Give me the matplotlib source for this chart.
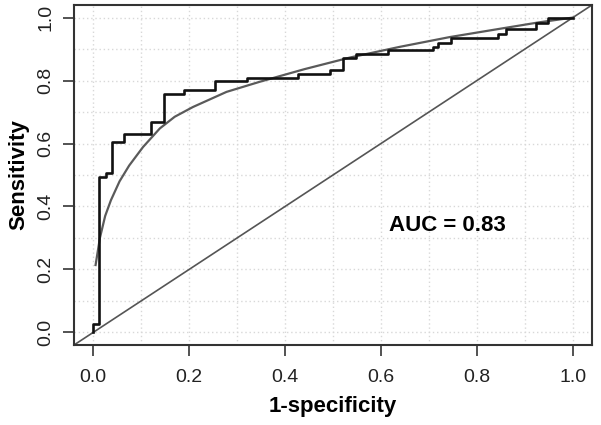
import numpy as np
import matplotlib
matplotlib.use("Agg")
from matplotlib import pyplot as plt

# empirical ROC: step points (fpr, tpr after jump)
fpr = [0, 0, 0.0125, 0.026, 0.040, 0.065, 0.12, 0.147, 0.189, 0.254, 0.321, 0.427,
       0.493, 0.52, 0.547, 0.615, 0.708, 0.719, 0.746, 0.844, 0.861, 0.924, 0.948, 1.0]
tpr = [0, 0.026, 0.494, 0.507, 0.605, 0.63, 0.669, 0.757, 0.769, 0.798, 0.808, 0.82,
       0.835, 0.873, 0.883, 0.896, 0.907, 0.919, 0.935, 0.949, 0.965, 0.983, 1.0, 1.0]

# smoothed ROC curve
smooth_x = [0.005, 0.014, 0.025, 0.037, 0.055, 0.075, 0.104, 0.139, 0.17, 0.208, 0.278,
            0.347, 0.44, 0.535, 0.639, 0.743, 0.85, 0.93, 1.0]
smooth_y = [0.214, 0.30, 0.37, 0.42, 0.48, 0.53, 0.589, 0.648, 0.685, 0.716, 0.764,
            0.796, 0.836, 0.873, 0.907, 0.938, 0.965, 0.985, 1.0]

ticks = [0.0, 0.2, 0.4, 0.6, 0.8, 1.0]
tick_labels = ["0.0", "0.2", "0.4", "0.6", "0.8", "1.0"]
auc_text = "AUC = 0.83"

plt.rcParams['font.family'] = ['Liberation Sans', 'DejaVu Sans']

fig = plt.figure(figsize=(6.01, 4.25), dpi=100)
ax = fig.add_axes([74/601, 80/425, 518/601, 340/425])

ax.set_xlim(-0.04, 1.04)
ax.set_ylim(-0.04, 1.04)

# dotted grid every 0.1
grid = np.arange(0, 1.01, 0.1)
for g in grid:
    ax.axvline(g, color="#d8d8d8", lw=1, ls=(0, (1, 2)), zorder=0)
    ax.axhline(g, color="#d8d8d8", lw=1, ls=(0, (1, 2)), zorder=0)

ax.axline((0, 0), slope=1, color="#555555", lw=1.2, zorder=1)
ax.plot(smooth_x, smooth_y, color="#5a5a5a", lw=1.6, zorder=2)
ax.step(fpr, tpr, where="post", color="#111111", lw=1.9, zorder=3)

ax.text(0.738, 0.34, auc_text, fontsize=16, fontweight="bold", ha="center", va="center")

ax.set_xticks(ticks)
ax.set_xticklabels(tick_labels, fontsize=14, color="#222222")
ax.set_yticks(ticks)
ax.set_yticklabels(tick_labels, fontsize=14, color="#222222", rotation=90, va="center")
ax.tick_params(axis="both", length=8, width=1.3, color="#444444")
ax.tick_params(axis="x", pad=9)
ax.tick_params(axis="y", pad=6)

for s in ax.spines.values():
    s.set_color("#333333")
    s.set_linewidth(1.5)

ax.set_xlabel("1-specificity", fontsize=16, fontweight="bold")
ax.set_ylabel("Sensitivity", fontsize=16, fontweight="bold")
ax.xaxis.set_label_coords(0.5, -0.15)
ax.yaxis.set_label_coords(-0.087, 0.5)

fig.savefig("out.png", dpi=100)
